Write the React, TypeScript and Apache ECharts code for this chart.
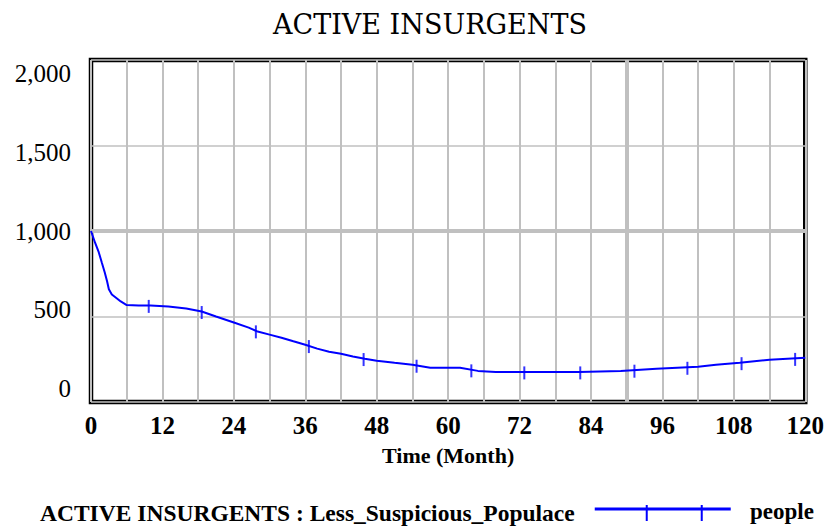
import React, { useEffect, useRef } from 'react';
import * as echarts from 'echarts';

// ---- data ----
const months = [0, 0.7, 1.3, 1.8, 2.3, 2.7, 3, 3.5, 4.2, 5, 6, 8, 10, 13, 16, 18.6, 21, 24, 26.5, 28, 30, 32, 34, 36, 38, 40, 42, 44, 46, 48, 51, 54, 57, 62, 65, 68, 82, 89, 95, 102, 105, 109, 114, 120];
const insurgents = [1000, 930, 876, 817, 759, 706, 659, 629, 610, 588, 567, 565, 565, 559, 547, 529, 500, 465, 435, 412, 394, 376, 355, 335, 312, 294, 282, 266, 253, 241, 229, 218, 200, 200, 182, 176, 176, 182, 194, 206, 218, 229, 247, 259];

const markerMonths = [9.7, 18.6, 27.7, 36.6, 45.8, 54.7, 63.9, 72.8, 82.2, 91.3, 100.2, 109.3, 118.3];
const markerValues = [565, 529, 416, 330, 254, 215, 188, 176, 176, 186, 203, 230, 255];

const yTickLabels = [0, 500, 1000, 1500, 2000];
const majorGridMonth = 90;
const majorGridPeople = 1000;

const chartTitle = 'ACTIVE INSURGENTS';
const seriesName = 'ACTIVE INSURGENTS : Less_Suspicious_Populace';
const unitLabel = 'people';
const xAxisName = 'Time (Month)';

const serif = 'Liberation Serif';

export default function App() {
  const ref = useRef<HTMLDivElement>(null);
  useEffect(() => {
    if (!ref.current) return;
    const chart = echarts.init(ref.current, undefined, { renderer: 'svg' });
    const fmt = (v: number) => Number(v).toLocaleString('en-US');
    const option: any = {
      animation: false,
      backgroundColor: '#ffffff',
      title: {
        text: chartTitle,
        left: 268,
        top: 6,
        textStyle: { fontFamily: 'DejaVu Serif', fontWeight: 'normal', fontSize: 27, color: '#000' },
      },
      legend: {
        data: [seriesName],
        left: 35,
        top: 496,
        align: 'right',
        itemWidth: 136,
        itemHeight: 16,
        icon: 'path://M0,2.5 H136 V5.5 H0 Z M51,0 H53 V16 H51 Z M106,0 H108 V16 H106 Z',
        textStyle: { fontFamily: serif, fontWeight: 'bold', fontSize: 23.5, color: '#000', padding: [0, 15, 0, 0] },
        selectedMode: false,
      },
      graphic: [
        {
          type: 'text',
          left: 750,
          top: 500,
          style: { text: unitLabel, font: `bold 23px "${serif}"`, fill: '#000' },
        },
      ],
      grid: {
        left: 91,
        right: 20.5,
        top: 60,
        bottom: 127,
        show: true,
        borderColor: '#000',
        borderWidth: 4.5,
        backgroundColor: '#fff',
      },
      xAxis: {
        type: 'value',
        min: 0,
        max: 120,
        interval: 6,
        axisLine: { show: false },
        axisTick: { show: false },
        splitLine: { show: true, lineStyle: { color: '#c0c0c0', width: 2 } },
        axisLabel: {
          formatter: (v: number) => (v % 12 === 0 ? String(v) : ''),
          fontFamily: serif,
          fontWeight: 'bold',
          fontSize: 25,
          color: '#000',
          margin: 11,
        },
        name: xAxisName,
        nameLocation: 'middle',
        nameGap: 42,
        nameTextStyle: { fontFamily: serif, fontWeight: 'bold', fontSize: 22, color: '#000' },
      },
      yAxis: [
        {
          type: 'value',
          min: 0,
          max: 2000,
          interval: 500,
          axisLine: { show: false },
          axisTick: { show: false },
          axisLabel: { show: false },
          splitLine: { show: true, lineStyle: { color: '#c0c0c0', width: 1.5 } },
        },
        {
          type: 'value',
          position: 'left',
          min: -86,
          max: 2086,
          axisLine: { show: false },
          axisTick: { show: false },
          splitLine: { show: false },
          axisLabel: {
            customValues: yTickLabels,
            formatter: fmt,
            fontFamily: serif,
            fontSize: 25,
            color: '#000',
            margin: 20,
          },
        },
      ],
      series: [
        {
          name: 'reference lines',
          type: 'line',
          data: [],
          z: 1,
          markLine: {
            silent: true,
            symbol: 'none',
            label: { show: false },
            lineStyle: { color: '#c0c0c0', width: 4, type: 'solid' },
            data: [{ yAxis: majorGridPeople }, { xAxis: majorGridMonth }],
          },
        },
        {
          name: seriesName,
          type: 'line',
          data: months.map((m, i) => [m, insurgents[i]]),
          showSymbol: false,
          symbol: 'none',
          color: '#0000ff',
          lineStyle: { color: '#0000ff', width: 2 },
          z: 10,
        },
        {
          name: 'markers',
          type: 'scatter',
          data: markerMonths.map((m, i) => [m, markerValues[i]]),
          symbol: 'rect',
          symbolSize: [2, 13],
          symbolOffset: [0, 1],
          itemStyle: { color: '#0000ff' },
          z: 11,
        },
      ],
    };
    chart.setOption(option);
    return () => chart.dispose();
  }, []);
  return <div ref={ref} style={{ position: 'fixed', left: 0, top: 0, width: 827, height: 529 }} />;
}
